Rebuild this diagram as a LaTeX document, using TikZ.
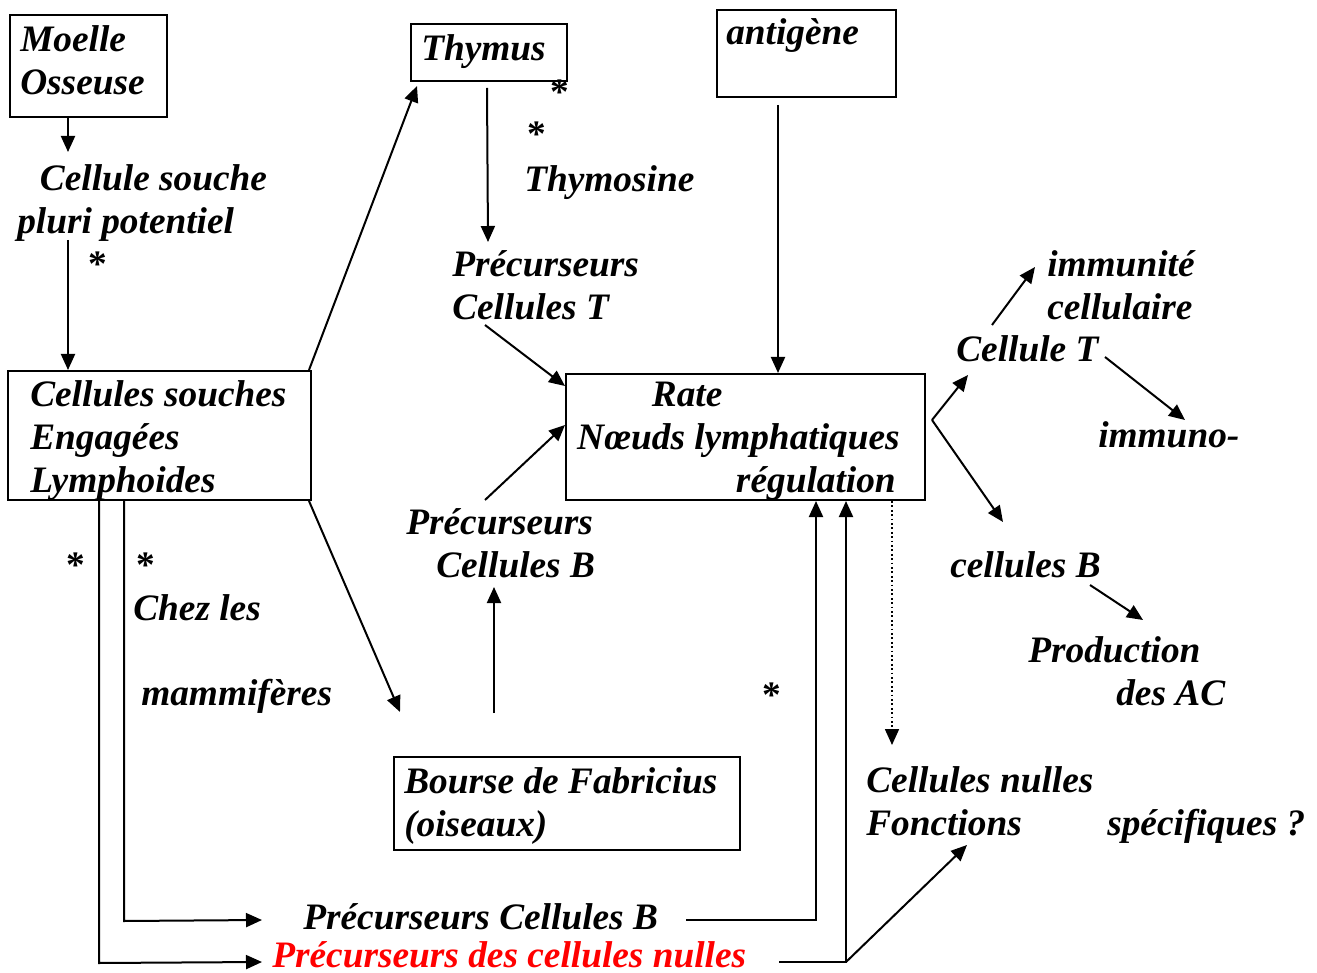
\documentclass[tikz,border=0pt]{standalone}
\usepackage{fontspec}
\setmainfont{Liberation Serif}
\usetikzlibrary{arrows.meta,calc,fit}
\begin{document}
\begin{tikzpicture}[x=0.75pt,y=-0.75pt,
  txt/.style={font=\fontsize{28}{32.25}\selectfont\bfseries\itshape, inner sep=0pt, anchor=base west, align=left},
  star/.style={font=\fontsize{28}{32.25}\selectfont\bfseries, inner sep=0pt, anchor=base},
  box/.style={draw, line width=1.5pt, inner sep=0pt},
  arr/.style={line width=1.5pt, -{Triangle[length=12pt,width=10.5pt]}},
  dot/.style={line width=1.3pt, dotted, -{Triangle[length=12pt,width=10.5pt]}}]
\useasboundingbox (0,0) rectangle (1317,973);

% boxes
\node[box, fit={(10,15) (167,117)}] (moelle) {};
\node[box, fit={(8,371) (311,500)}] (cse) {};
\node[box, fit={(411,24) (567,81)}] (thym) {};
\node[box, fit={(717,10) (896,97)}] (ant) {};
\node[box, fit={(566,374) (925,500)}] (rate) {};
\node[box, fit={(394,757) (740,850)}] (bourse) {};

% texts (multi-line nodes are placed by their last baseline)
\node[txt] (moelleT) at (20,95) {Moelle\\Osseuse};
\node[txt] (csp) at (17,234) {\hspace*{17pt}Cellule souche\\pluri potentiel};
\node[txt] (cseT) at (30,492) {Cellules souches\\Engagées\\Lymphoides};
\node[txt] (thymT) at (421,61) {Thymus};
\node[txt] (thymo) at (524,192) {Thymosine};
\node[txt] (pct) at (452,320) {Précurseurs\\Cellules T};
\node[txt] (antT) at (726,45) {antigène};
\node[txt, anchor=base east, align=right] (rateT) at (900,492) {Rate\hspace*{133pt}\\Nœuds lymphatiques\\régulation\hspace*{3pt}};
\node[txt] (pcb) at (406,577) {Précurseurs\\\hspace*{22.5pt}Cellules B};
\node[txt] (bourseT) at (404,836) {Bourse de Fabricius\\(oiseaux)};
\node[txt] (chez) at (133,620) {Chez les};
\node[txt] (mamm) at (141,705) {mammifères};
\node[txt] (pcb2) at (303,929) {Précurseurs Cellules B};
\node[txt, text=red] (pcn) at (272,967) {Précurseurs des cellules nulles};
\node[txt] (cn) at (866,835) {Cellules nulles\\Fonctions};
\node[txt] (spec) at (1107,835) {spécifiques ?};
\node[txt] (cT) at (956,362) {Cellule T};
\node[txt] (imm) at (1047,320) {immunité\\cellulaire};
\node[txt] (immuno) at (1098,447) {immuno-};
\node[txt] (cB) at (950,577) {cellules B};
\node[txt] (prod) at (1028,705) {Production\\\hspace*{66pt}des AC};

% stars
\node[star] (s1) at (98,277) {*};
\node[star] (s2) at (560,105) {*};
\node[star] (s3) at (537,147) {*};
\node[star] (s4) at (76,577) {*};
\node[star] (s5) at (146,577) {*};
\node[star] (s6) at (772,707) {*};

% free ends
\coordinate (cspTop) at (68,152);
\coordinate (cspBot) at (68,240);
\coordinate (pctTop) at (488,242);
\coordinate (pctBot) at (485,325);
\coordinate (antBot) at (778,105);
\coordinate (pcbTop) at (485,500);
\coordinate (pcbBot) at (494,587);
\coordinate (bourseUp) at (494,713);
\coordinate (bourseIn) at (400,712);
\coordinate (pcb2In) at (262,920);
\coordinate (pcb2Out) at (686,920);
\coordinate (pcnIn) at (262,962);
\coordinate (pcnOut) at (779,962);
\coordinate (fork) at (932,420);
\coordinate (cTin) at (968,375);
\coordinate (cBin) at (1003,522);
\coordinate (cTup) at (992,325);
\coordinate (immIn) at (1035,267);
\coordinate (cTdn) at (1105,357);
\coordinate (immunoIn) at (1185,420);
\coordinate (cBout) at (1090,585);
\coordinate (prodIn) at (1143,620);
\coordinate (cnIn) at (892,745);
\coordinate (fonIn) at (967,845);

% connectors
\draw[arr] (moelle.south -| cspTop) -- (cspTop);
\draw[arr] (cspBot) -- (cspBot |- cse.north);
\draw[arr] ($(cse.north east)+(-3,0)$) -- ($(thym.south west)+(7,4)$);
\draw[arr] ($(thym.south west)+(77,6)$) -- (pctTop);
\draw[arr] (pctBot) -- ($(rate.north west)+(0,13)$);
\draw[arr] (antBot) -- (antBot |- rate.north);
\draw[arr] (pcbTop) -- ($(rate.north west)+(0,52)$);
\draw[arr] (bourseUp) -- (pcbBot);
\draw[arr] ($(cse.south east)+(-3,0)$) -- (bourseIn);
\draw[arr] ($(cse.south west)+(117,0)$) -- ++(0,420) -- (pcb2In);
\draw[arr] ($(cse.south west)+(92,0)$) -- ++(0,462) -- (pcnIn);
\draw[arr] (pcb2Out) -- (816,920) -- (816,920 |- rate.south);
\draw[arr] (pcnOut) -- (846,962) -- (846,962 |- rate.south);
\draw[arr] (846,962) -- (fonIn);
\draw[dot] (cnIn |- rate.south) -- (cnIn);
\draw[arr] (fork) -- (cTin);
\draw[arr] (fork) -- (cBin);
\draw[arr] (cTup) -- (immIn);
\draw[arr] (cTdn) -- (immunoIn);
\draw[arr] (cBout) -- (prodIn);
\end{tikzpicture}
\end{document}
